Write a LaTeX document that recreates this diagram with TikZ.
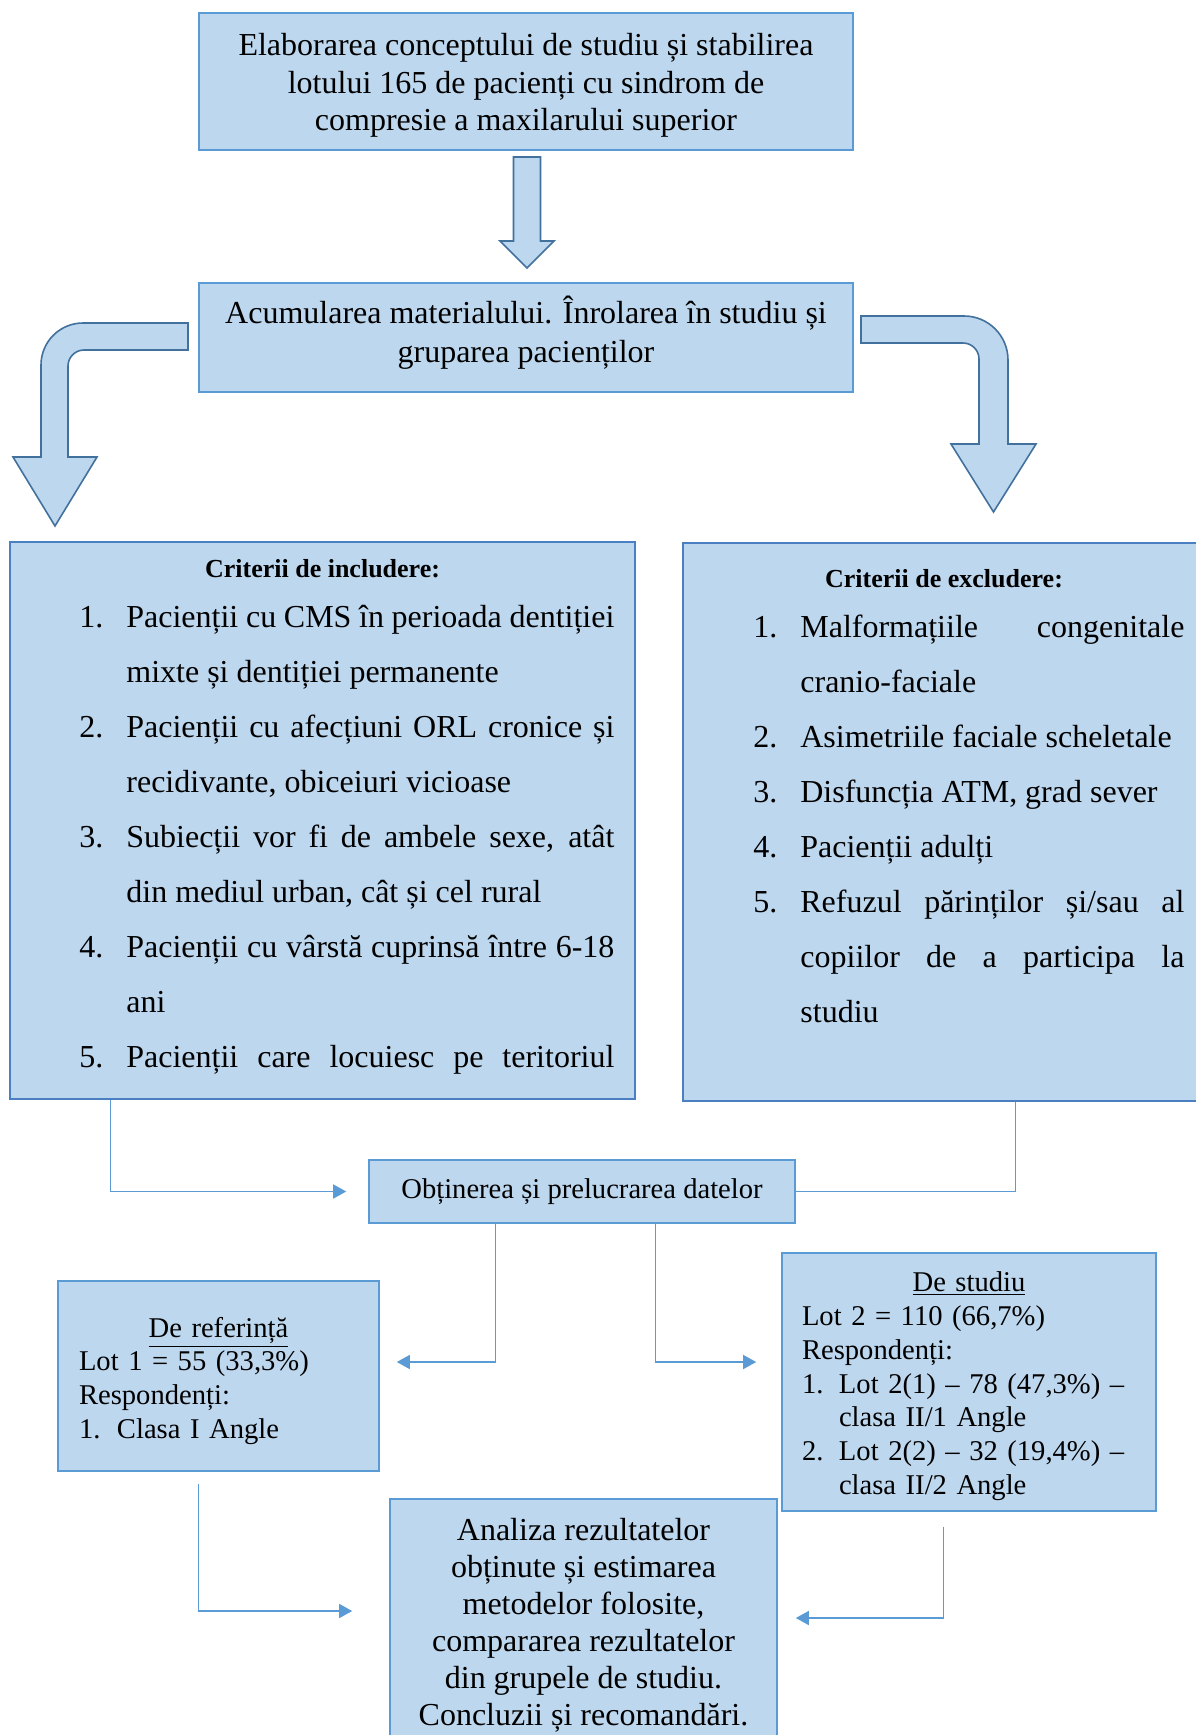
\documentclass[tikz,border=0pt]{standalone}
\usepackage{fontspec}
\setmainfont{Liberation Serif}
\usepackage{tikz}
\usetikzlibrary{arrows.meta}

\definecolor{boxfill}{HTML}{BDD7EE}
\definecolor{boxline}{HTML}{5B9BD5}
\definecolor{critline}{HTML}{4A7FC1}
\definecolor{arrowline}{HTML}{41719C}
\definecolor{linkblue}{HTML}{5B9BD5}

% numbered criteria, justified, hanging indent
\newlength{\critind}
\setlength{\critind}{23.5pt}
\newcommand{\critem}[2]{\par\noindent\tolerance=9999\hyphenpenalty=10000
  \hangindent=\critind\hangafter=1\makebox[\critind][l]{#1}\strut#2\par}
% invisible rules to set a first line height / last line depth
\newcommand{\topgap}[1]{\rule{0pt}{#1}}
\newcommand{\botgap}[1]{\rule[-#1]{0pt}{0pt}}

\tikzset{
  box/.style={draw=boxline, fill=boxfill, line width=0.8pt, inner sep=0pt, align=center},
  critbox/.style={box, draw=critline},
  bigtext/.style={font=\fontsize{16}{18.75}\selectfont},
  smalltext/.style={font=\fontsize{14.3}{16.9}\selectfont},
  crittext/.style={inner sep=0pt, anchor=north west, align=justify, font=\fontsize{16}{27.5}\selectfont},
  crittitle/.style={inner sep=0pt, anchor=base, font=\fontsize{13}{15}\selectfont\bfseries},
  wire/.style={draw=linkblue, line width=0.7pt},
  link/.style={wire, -{Triangle[length=6.5pt,width=7pt]}},
  blockarrow/.style={draw=arrowline, fill=boxfill, line width=0.8pt, line join=miter}
}

\begin{document}
\begin{tikzpicture}[x=0.5pt,y=-0.5pt]
  \fill[white] (0,0) rectangle (1195,1735);
  \useasboundingbox (0,0) rectangle (1195,1735);

  % top of the chart
  \node[box, line width=1pt, bigtext, minimum width=327pt, minimum height=68.5pt] (concept) at (526,81.5)
    {\topgap{17.6pt}Elaborarea conceptului de studiu și stabilirea\\ lotului 165 de pacienți cu sindrom de\\ compresie a maxilarului superior\strut};
  \node[box, line width=1pt, font=\fontsize{16}{19.5}\selectfont, minimum width=327pt, minimum height=54.5pt] (acumulare) at (526,337.5)
    {\strut Acumularea materialului. Înrolarea în studiu și\\ gruparea pacienților\botgap{8.6pt}};

  % block arrows
  \filldraw[blockarrow] (513.5,157) -- (540.5,157) -- (540.5,241) -- (554,241) -- (527,268)
    -- (500,241) -- (513.5,241) -- cycle;
  \filldraw[blockarrow] (188,323) -- (83,323) .. controls (59.8,323) and (41,341.8) .. (41,365)
    -- (41,457) -- (13,457) -- (55,526) -- (97,457) -- (68,457) -- (68,366)
    .. controls (68,357.2) and (75.2,350) .. (84,350) -- (188,350) -- cycle;
  \filldraw[blockarrow] (861,316) -- (964,316) .. controls (988.3,316) and (1008,335.7) .. (1008,360)
    -- (1008,444) -- (1036,444) -- (993.5,512) -- (951,444) -- (979,444) -- (979,359)
    .. controls (979,350.2) and (971.8,343) .. (963,343) -- (861,343) -- cycle;

  % criteria
  \node[critbox, minimum width=312.5pt, minimum height=278.5pt] (includere) at (322.5,820.5) {};
  \node[critbox, minimum width=261pt, minimum height=279pt] (excludere) at (944,822) {};
  \node[crittitle] (inctitle) at (322.5,577) {Criterii de includere:};
  \node[crittitle] (exctitle) at (944,587) {Criterii de excludere:};
  \node[crittext, text width=267.5pt] (inclist) at (79,572.5) {%
    \critem{1.}{Pacienții cu CMS în perioada dentiției\linebreak mixte și dentiției permanente}%
    \critem{2.}{Pacienții cu afecțiuni ORL cronice și\linebreak recidivante, obiceiuri vicioase}%
    \critem{3.}{Subiecții vor fi de ambele sexe, atât\linebreak din mediul urban, cât și cel rural}%
    \critem{4.}{Pacienții cu vârstă cuprinsă între 6-18\linebreak ani}%
    \critem{5.}{\makebox[244pt][s]{Pacienții care locuiesc pe teritoriul}}};
  \node[crittext, text width=215.5pt] (exclist) at (753,582.5) {%
    \critem{1.}{Malformațiile congenitale\linebreak cranio-faciale}%
    \critem{2.}{Asimetriile faciale scheletale}%
    \critem{3.}{Disfuncția ATM, grad sever}%
    \critem{4.}{Pacienții adulți}%
    \critem{5.}{Refuzul părinților și/sau al\linebreak copiilor de a participa la\linebreak studiu}};

  % lower part
  \node[box, smalltext, minimum width=213pt, minimum height=31.5pt] (obtinere) at (582,1191.5)
    {\strut Obținerea și prelucrarea datelor};
  \node[box, smalltext, align=left, text width=139.5pt, minimum width=160.5pt, minimum height=95pt] (referinta) at (218.5,1376)
    {\topgap{16.8pt}\hfill\underline{De referință}\hfill\null\\
     Lot 1 = 55 (33,3\%)\\
     Respondenți:\\
     \makebox[19pt][l]{1.}Clasa I Angle\strut};
  \node[box, smalltext, align=left, text width=167pt, minimum width=187pt, minimum height=129pt] (studiu) at (969,1382)
    {\topgap{16.2pt}\hfill\underline{De studiu}\hfill\null\\
     Lot 2 = 110 (66,7\%)\\
     Respondenți:\\
     \makebox[18.5pt][l]{1.}Lot 2(1) – 78 (47,3\%) –\\
     \hspace*{18.5pt}clasa II/1 Angle\\
     \makebox[18.5pt][l]{2.}Lot 2(2) – 32 (19,4\%) –\\
     \hspace*{18.5pt}clasa II/2 Angle\strut};
  \node[box, font=\fontsize{16}{18.5}\selectfont, minimum width=193.5pt, minimum height=123.5pt] (analiza) at (583.5,1622.5)
    {\topgap{16.2pt}Analiza rezultatelor\\ obținute și estimarea\\ metodelor folosite,\\ compararea rezultatelor\\
     din grupele de studiu.\\ Concluzii și recomandări.\strut};

  % connectors
  \draw[link, shorten >=11pt] ([xshift=50.5pt]includere.south west) |- (obtinere.west);
  \draw[wire] ([xshift=166.5pt]excludere.south west) |- (obtinere.east);
  \draw[link, shorten >=8.5pt] ([xshift=63.5pt]obtinere.south west) |- ([yshift=7pt]referinta.east);
  \draw[link, shorten >=12.5pt] ([xshift=143.5pt]obtinere.south west) |- ([yshift=10pt]studiu.west);
  \draw[link, shorten <=6pt, shorten >=18.5pt] ([xshift=70.5pt]referinta.south west) |- ([yshift=5.75pt]analiza.west);
  \draw[link, shorten <=7.5pt, shorten >=9pt] ([xshift=81pt]studiu.south west) |- ([yshift=2.25pt]analiza.east);
\end{tikzpicture}
\end{document}
